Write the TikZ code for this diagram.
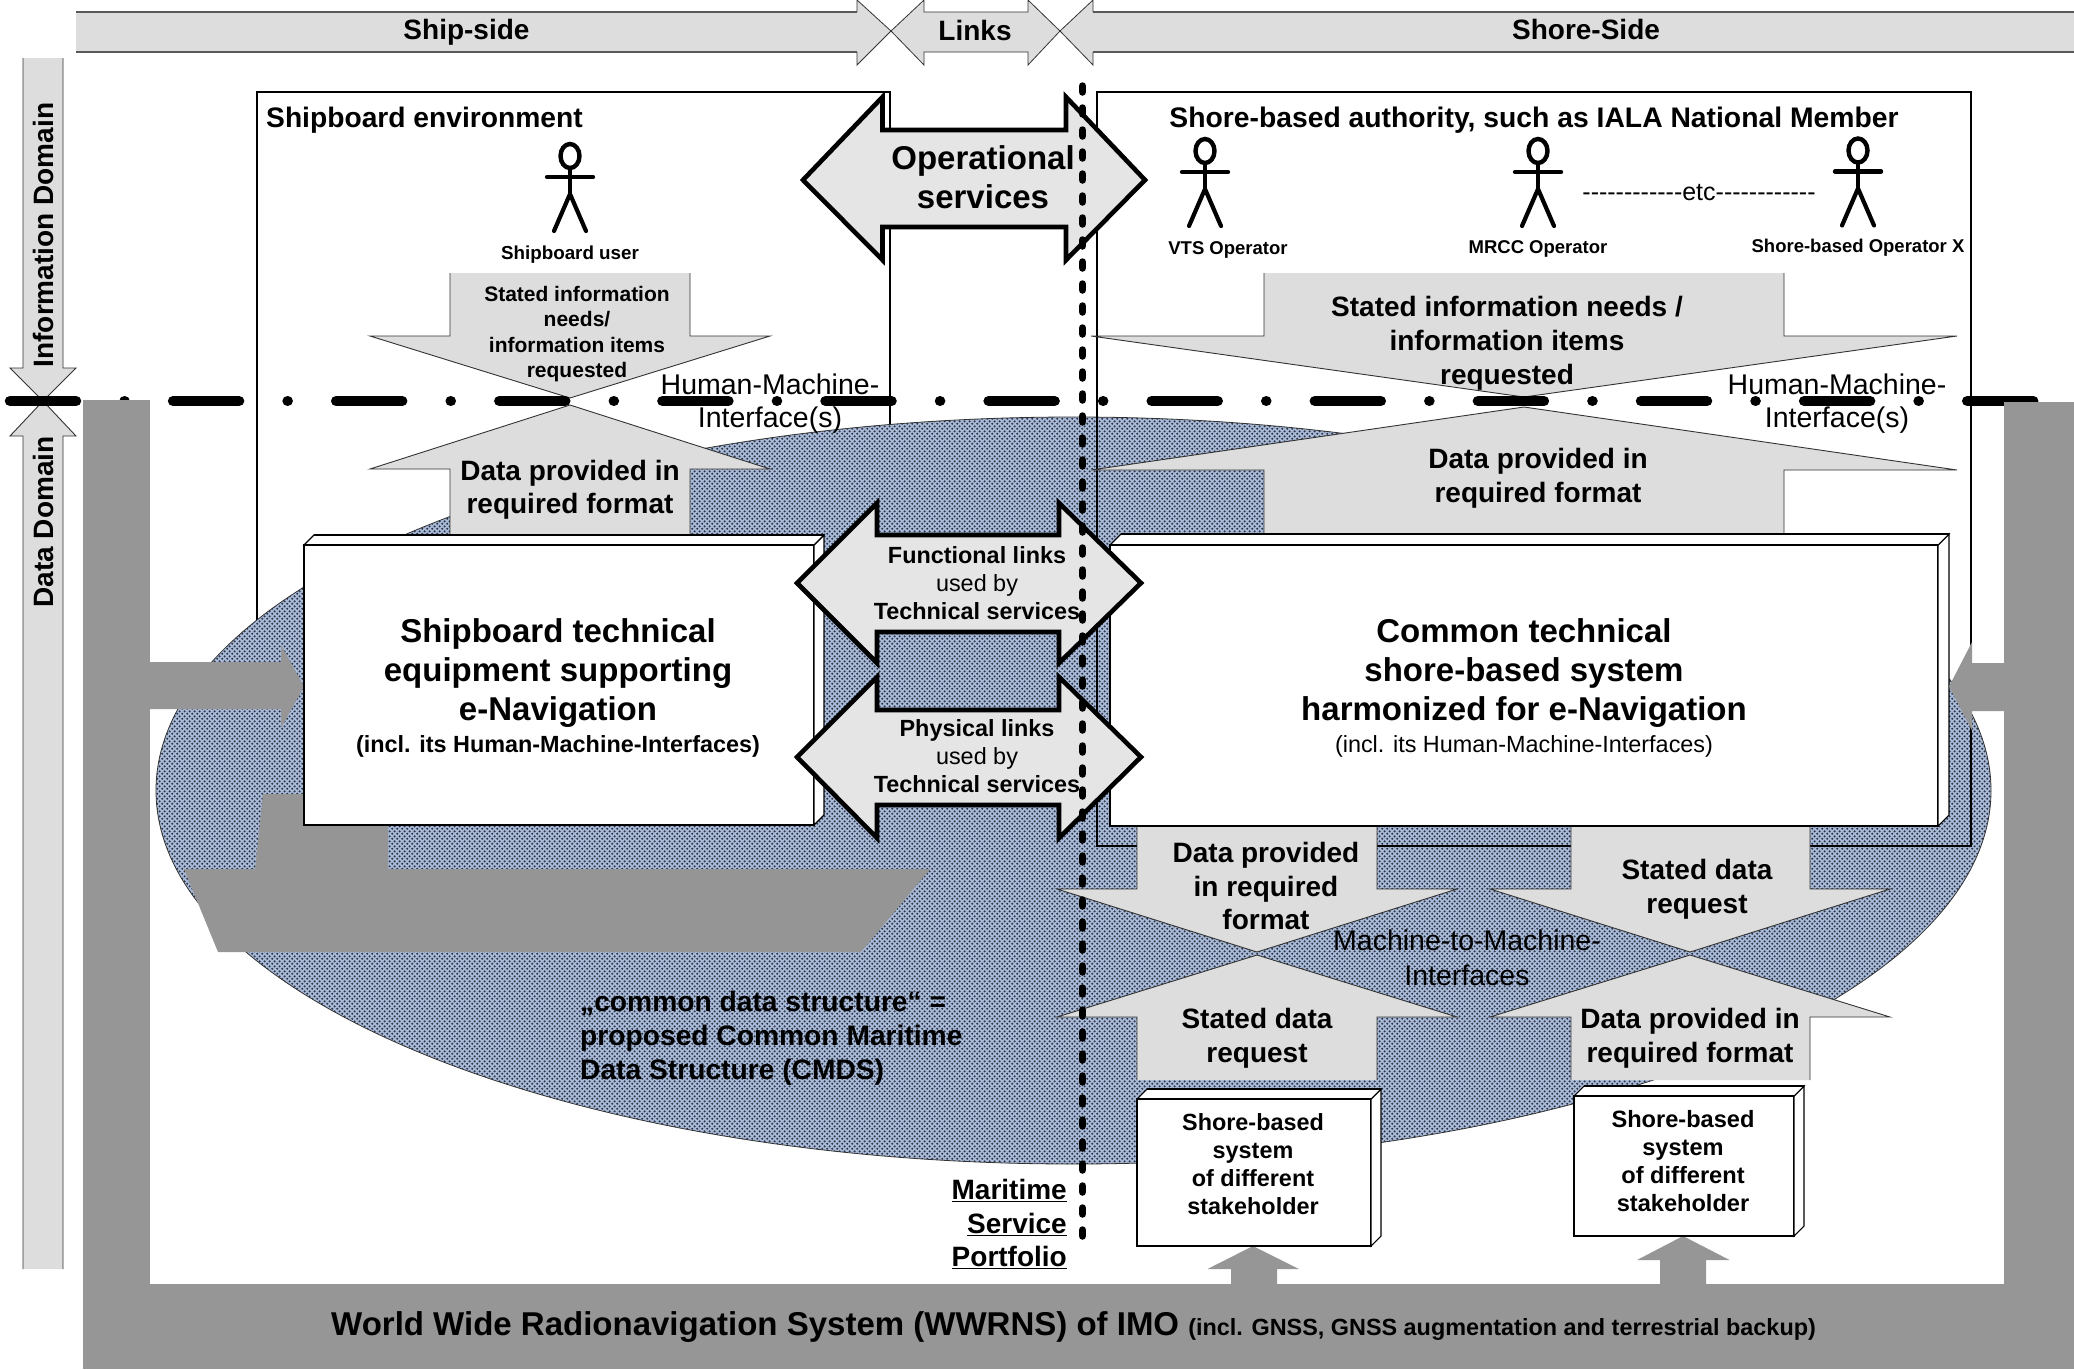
\documentclass[tikz,border=0pt]{standalone}
\usepackage{fontspec}
\setmainfont{Liberation Sans}
\usetikzlibrary{patterns}
\definecolor{barfill}{HTML}{DDDDDD}
\definecolor{linkfill}{HTML}{E5E5E5}
\definecolor{framegray}{HTML}{969696}
\definecolor{shipgray}{HTML}{959595}
\definecolor{edgegray}{HTML}{333333}
\definecolor{cmdsbase}{HTML}{A9BBDA}
\definecolor{cmdsdot}{HTML}{2E3542}
\pgfdeclarepatternformonly{cmdsdots}{\pgfqpoint{0pt}{0pt}}{\pgfqpoint{5.4pt}{5.4pt}}{\pgfqpoint{5.4pt}{5.4pt}}{%
  \pgfpathcircle{\pgfqpoint{1.35pt}{1.35pt}}{1.3pt}%
  \pgfpathcircle{\pgfqpoint{4.05pt}{4.05pt}}{1.3pt}%
  \pgfusepath{fill}}
\newcommand\fs[2]{\fontsize{#1}{#2}\selectfont}
\newcommand\hh{-\kern0pt}
\tikzset{
  lab/.style={inner sep=0pt,align=center},
  thinedge/.style={draw=edgegray,line width=0.9pt},
  bigarrow/.style={draw=black,line width=4.6pt,fill=linkfill,line join=miter,miter limit=3},
}
% #1 xl #2 xr #3 head l #4 head r #5 ybase #6 yshoulder #7 tipx #8 tipy
\newcommand\blockarrow[8]{%
  \fill[barfill] (#1,#5)--(#1,#6)--(#3,#6)--(#7,#8)--(#4,#6)--(#2,#6)--(#2,#5)--cycle;
  \draw[thinedge] (#1,#5)--(#1,#6)--(#3,#6)--(#7,#8)--(#4,#6)--(#2,#6)--(#2,#5);
}
% #1 x1 #2 y1 #3 x2 #4 y2 #5 depth
\newcommand\cube[5]{%
  \draw[fill=white,line width=1.1pt] (#1,#2) rectangle (#3,#4);
  \draw[fill=white,line width=1.1pt] (#3,#2)--(#3+#5,#2-#5)--(#3+#5,#4-#5)--(#3,#4)--cycle;
  \draw[fill=white,line width=1.1pt] (#1,#2)--(#1+#5,#2-#5)--(#3+#5,#2-#5)--(#3,#2)--cycle;
  \draw[line width=2pt] (#1+#5,#2-#5)--(#3+#5,#2-#5);
  \draw[line width=1.8pt] (#1,#2)--(#3,#2);
}
% #1 x #2 head centre y
\newcommand\stick[2]{%
  \draw[line width=4.4pt,line cap=round] (#1,#2) ellipse [x radius=9.5pt,y radius=12pt];
  \draw[line width=4.4pt,line cap=round] (#1-23,#2+21)--(#1+23,#2+21);
  \draw[line width=3.6pt] (#1,#2+12)--(#1,#2+38);
  \draw[line width=4.2pt,line cap=round] (#1-16,#2+75)--(#1,#2+38)--(#1+16,#2+75);
}
% double arrow: #1 left tip #2 left neck #3 right neck #4 right tip #5 head top #6 body top #7 centre y #8 body bottom #9 head bottom
\newcommand\duplex[9]{%
  \draw[bigarrow] (#1,#7)--(#2,#5)--(#2,#6)--(#3,#6)--(#3,#5)--(#4,#7)--(#3,#9)--(#3,#8)--(#2,#8)--(#2,#9)--cycle;
}
\begin{document}
\begin{tikzpicture}[x=1pt,y=-1pt]
\useasboundingbox (0,0) rectangle (2074,1369);
\fill[white] (0,0) rectangle (2074,1369);

% environment boxes
\draw[line width=1.3pt] (257,92) rectangle (890,700);
\draw[line width=1.3pt] (1097,92) rectangle (1971,846);

% common data structure
\fill[cmdsbase] (1073.5,790.5) ellipse [x radius=917.5pt,y radius=373.5pt];
\fill[pattern=cmdsdots,pattern color=cmdsdot] (1073.5,790.5) ellipse [x radius=917.5pt,y radius=373.5pt];
\draw[line width=0.8pt,edgegray] (1073.5,790.5) ellipse [x radius=917.5pt,y radius=373.5pt];
\draw[line width=1.3pt] (1097,92)--(1971,92)--(1971,846)--(1097,846)--cycle;

% banner
\path[fill=barfill] (76,12)--(857,12)--(857,0)--(891,31)--(857,65)--(857,52)--(76,52)--cycle;
\draw[line width=1.4pt,draw=gray!70!black] (76,12)--(857,12);
\draw[line width=1.4pt,draw=gray!70!black] (76,52)--(857,52);
\draw[line width=0.8pt,edgegray] (857,12)--(857,0)--(891,31)--(857,65)--(857,52);
\path[fill=barfill] (891,31)--(924,0)--(924,12)--(1028,12)--(1028,0)--(1060,31)--(1028,65)--(1028,52)--(924,52)--(924,65)--cycle;
\draw[line width=0.8pt,edgegray] (891,31)--(924,0)--(924,12)--(1028,12)--(1028,0)--(1060,31)--(1028,65)--(1028,52)--(924,52)--(924,65)--cycle;
\path[fill=barfill] (2074,12)--(1093,12)--(1093,0)--(1060,31)--(1093,65)--(1093,52)--(2074,52)--cycle;
\draw[line width=0.8pt,edgegray] (1093,12)--(1093,0)--(1060,31)--(1093,65)--(1093,52);
\draw[line width=1.4pt,draw=gray!70!black] (1093,12)--(2074,12);
\draw[line width=1.4pt,draw=gray!70!black] (1093,52)--(2074,52);

% domain arrows
\blockarrow{23}{63}{10}{76}{58}{368}{43}{401}
\blockarrow{23}{63}{10}{76}{1269}{436}{43}{401}

% HMI arrows, ship side
\blockarrow{450}{690}{370}{770}{273}{336}{570}{398}
\blockarrow{450}{690}{370}{770}{534}{469}{570}{405}
% HMI arrows, shore side
\blockarrow{1264}{1784}{1091}{1957}{273}{336}{1524}{397}
\blockarrow{1264}{1784}{1091}{1957}{534}{470}{1524}{407}

% machine to machine arrows
\blockarrow{1137}{1377}{1057}{1457}{826}{889}{1257}{952}
\blockarrow{1571}{1810}{1490}{1890}{826}{889}{1690}{952}
\blockarrow{1137}{1377}{1057}{1457}{1080}{1017}{1257}{955}
\blockarrow{1571}{1810}{1490}{1890}{1080}{1017}{1690}{955}

% domain boundary
\draw[line width=10.5pt,line cap=round,dash pattern=on 66pt off 48.5pt on 0.1pt off 48.5pt] (10,401)--(2036,401);

% WWRNS frame
\fill[framegray] (83,400) rectangle (150,1284);
\fill[framegray] (83,1284) rectangle (2074,1369);
\fill[framegray] (2004,402) rectangle (2074,1369);
\fill[framegray] (150,662)--(281,662)--(281,645)--(304,686.5)--(281,728)--(281,709)--(150,709)--cycle;
\fill[framegray] (1231,1284)--(1231,1269)--(1207.5,1269)--(1253,1246)--(1299,1269)--(1277,1269)--(1277,1284)--cycle;
\fill[framegray] (1660,1284)--(1660,1260)--(1637,1260)--(1683,1236)--(1729.5,1260)--(1706,1260)--(1706,1284)--cycle;

% ship
\fill[shipgray] (184,869)--(255,869)--(263,794)--(388,794)--(388,869)--(930,869)--(861,952)--(218,952)--cycle;

% technical boxes
\cube{304}{545}{814}{825}{10}
\cube{1110}{545}{1938}{826}{11}
\cube{1137}{1099}{1371}{1246}{10}
\cube{1574}{1096}{1794}{1236}{10}

\fill[framegray] (2004,663)--(1972,663)--(1972,642)--(1949,686.5)--(1972,730.6)--(1972,711)--(2004,711)--cycle;

% service arrows
\duplex{803}{882.5}{1066}{1145}{97}{130}{180}{227}{260}
\duplex{797}{877}{1059}{1141}{503}{535}{583}{632}{663}
\duplex{797}{877}{1059}{1141}{677}{710}{757}{805}{838}

% actors
\stick{570}{156}
\stick{1205}{151}
\stick{1538}{151}
\stick{1858}{150.5}

% texts
\tikzset{every node/.append style={lab}}
\node[font=\bfseries\fs{28}{33}] (shipside) at (466.5,32.3) {Ship-side};
\node[font=\bfseries\fs{28}{33}] (links) at (975,30.5) {Links};
\node[font=\bfseries\fs{28}{33}] (shoreside) at (1586,29.7) {Shore-Side};
\node[font=\bfseries\fs{28}{33},rotate=90] (infodom) at (43,235) {Information Domain};
\node[font=\bfseries\fs{28}{33},rotate=90] (datadom) at (43,522) {Data Domain};
\node[font=\bfseries\fs{28.2}{33},anchor=west] (shipenv) at (266,120) {Shipboard environment};
\node[font=\bfseries\fs{28.3}{33}] (shoreenv) at (1534,120) {Shore-based authority, such as IALA National Member};
\node[font=\bfseries\fs{33}{39}] (opserv) at (983,177) {Operational\\services};
\node[font=\bfseries\fs{18.8}{23}] (shipuser) at (570,254.3) {Shipboard user};
\node[font=\bfseries\fs{18.5}{22}] (vtsop) at (1228,250.3) {VTS Operator};
\node[font=\bfseries\fs{18.5}{22}] (mrccop) at (1538,249) {MRCC Operator};
\node[font=\bfseries\fs{18.5}{22}] (xop) at (1858,248) {Shore-based Operator X};
\node[font=\fs{25}{29}] (etc) at (1699,193) {\hh\hh\hh\hh\hh\hh\hh\hh\hh\hh\hh\hh etc\hh\hh\hh\hh\hh\hh\hh\hh\hh\hh\hh\hh};
\node[font=\bfseries\fs{21}{25.4}] (needsship) at (577,334) {Stated information\\needs/\\information items\\requested};
\node[font=\bfseries\fs{28}{33}] (dataship) at (570,489.5) {Data provided in\\required format};
\node[font=\fs{28.5}{33}] (hmiship) at (770,403.5) {Human-Machine-\\Interface(s)};
\node[font=\bfseries\fs{28}{33.8}] (needsshore) at (1507,343) {Stated information needs /\\information items\\requested};
\node[font=\bfseries\fs{28}{33.8}] (datashore) at (1538,478.5) {Data provided in\\required format};
\node[font=\fs{28.5}{33}] (hmishore) at (1837,403.5) {Human-Machine-\\Interface(s)};
\node[font=\bfseries\fs{33}{39}] (shipbox) at (558,673) {Shipboard technical\\equipment supporting\\e-Navigation};
\node[font=\bfseries\fs{23.4}{27}] (shipincl) at (558,746) {(incl. its Human-Machine-Interfaces)};
\node[font=\bfseries\fs{33}{39}] (shorebox) at (1524,673) {Common technical\\shore-based system\\harmonized for e-Navigation};
\node[font=\fs{23.4}{27}] (shoreincl) at (1524,746) {(incl. its Human-Machine-Interfaces)};
\node[font=\fs{23.4}{28}] (funclinks) at (977,583) {\textbf{Functional links}\\used by\\\textbf{Technical services}};
\node[font=\fs{23.4}{28}] (physlinks) at (977,755.7) {\textbf{Physical links}\\used by\\\textbf{Technical services}};
\node[font=\bfseries\fs{28}{33.4}] (dataa) at (1266,886) {Data provided\\in required\\format};
\node[font=\bfseries\fs{28}{33.8}] (reqb) at (1697,889) {Stated data\\request};
\node[font=\bfseries\fs{28}{33.8}] (reqc) at (1257,1038) {Stated data\\request};
\node[font=\bfseries\fs{28}{33.8}] (datad) at (1690,1038) {Data provided in\\required format};
\node[font=\fs{28.5}{34.5}] (m2m) at (1467,958) {Machine-to-Machine-\\Interfaces};
\node[font=\bfseries\fs{23.4}{28.2}] (sysleft) at (1253,1164) {Shore-based\\system\\of different\\stakeholder};
\node[font=\bfseries\fs{23.6}{28.2}] (sysright) at (1683,1161) {Shore-based\\system\\of different\\stakeholder};
\node[font=\bfseries\fs{28.2}{34},align=left,anchor=west] (cmds) at (580,1038) {„common data structure“ =\\proposed Common Maritime\\Data Structure (CMDS)};
\node[font=\bfseries\fs{28}{33.8},align=right,anchor=east] (msp) at (1067,1224) {\underline{Maritime}\\\underline{Service}\\\underline{Portfolio}};
\node[anchor=base west] (wwrns) at (331,1335) {\bfseries\fs{33}{39}World Wide Radionavigation System (WWRNS) of IMO\ \fs{23.4}{26}(incl. GNSS, GNSS augmentation and terrestrial backup)};

% service portfolio divider
\draw[line width=7.5pt,line cap=round,dash pattern=on 6pt off 16pt] (1082.5,86)--(1082.5,1240);
\end{tikzpicture}
\end{document}
